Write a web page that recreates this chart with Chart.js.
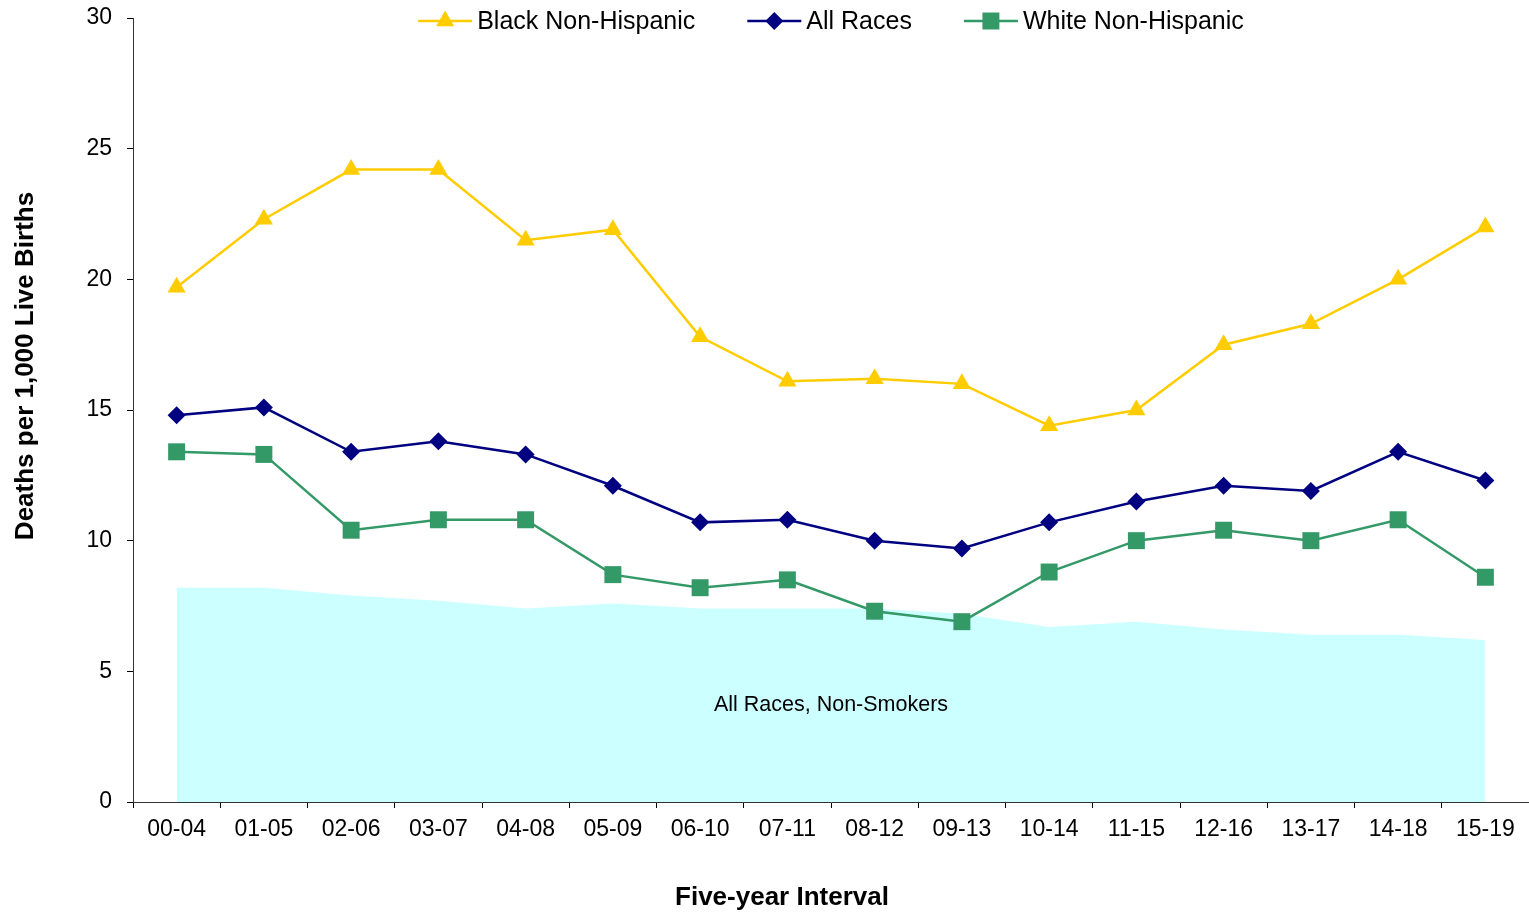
<!DOCTYPE html>
<html>
<head>
<meta charset="utf-8">
<script src="https://cdn.jsdelivr.net/npm/chart.js@4.4.1/dist/chart.umd.min.js"></script>
<style>
html,body{margin:0;padding:0;background:#fff;overflow:hidden;}
#wrap{width:1529px;height:915px;position:relative;}
</style>
</head>
<body>
<div id="wrap"><canvas id="c" width="1529" height="915"></canvas></div>
<script>
const intervals = ['00-04','01-05','02-06','03-07','04-08','05-09','06-10','07-11','08-12','09-13','10-14','11-15','12-16','13-17','14-18','15-19'];
const blackNonHispanic = [19.7,22.3,24.2,24.2,21.5,21.9,17.8,16.1,16.2,16.0,14.4,15.0,17.5,18.3,20.0,22.0];
const allRaces = [14.8,15.1,13.4,13.8,13.3,12.1,10.7,10.8,10.0,9.7,10.7,11.5,12.1,11.9,13.4,12.3];
const whiteNonHispanic = [13.4,13.3,10.4,10.8,10.8,8.7,8.2,8.5,7.3,6.9,8.8,10.0,10.4,10.0,10.8,8.6];
const allRacesNonSmokers = [8.2,8.2,7.9,7.7,7.4,7.6,7.4,7.4,7.4,7.2,6.7,6.9,6.6,6.4,6.4,6.2];
const yMin = 0, yMax = 30, yStep = 5;
const xTitle = 'Five-year Interval';
const yTitle = 'Deaths per 1,000 Live Births';
const areaLabel = 'All Races, Non-Smokers';
const areaLabelValue = 3.7;

const FONT = '"Liberation Sans", Arial, Helvetica, sans-serif';

const legendPlugin = {
  id: 'customLegend',
  afterDraw(chart) {
    const ctx = chart.ctx;
    const ca = chart.chartArea;
    const items = chart.data.datasets.filter(d => d.showInLegend);
    const iconW = 54, gapIT = 5, gapItems = 52;
    ctx.save();
    ctx.font = '25px ' + FONT;
    const widths = items.map(d => ctx.measureText(d.label).width);
    let total = 0;
    items.forEach((d, i) => { total += iconW + gapIT + widths[i]; if (i < items.length - 1) total += gapItems; });
    let x = (ca.left + ca.right) / 2 - total / 2;
    const y = 21;
    items.forEach((d, i) => {
      ctx.strokeStyle = d.borderColor;
      ctx.lineWidth = 2.5;
      ctx.beginPath();
      ctx.moveTo(x, y); ctx.lineTo(x + iconW, y);
      ctx.stroke();
      const cx = x + iconW / 2;
      ctx.fillStyle = d.pointBackgroundColor;
      ctx.beginPath();
      const r = d.pointRadius;
      if (d.pointStyle === 'triangle') {
        ctx.moveTo(cx, y - r);
        ctx.lineTo(cx + r * 0.866, y + r * 0.5);
        ctx.lineTo(cx - r * 0.866, y + r * 0.5);
      } else if (d.pointStyle === 'rectRot') {
        ctx.moveTo(cx - r, y); ctx.lineTo(cx, y - r); ctx.lineTo(cx + r, y); ctx.lineTo(cx, y + r);
      } else {
        const h = r * Math.SQRT1_2;
        ctx.rect(cx - h, y - h, 2 * h, 2 * h);
      }
      ctx.closePath();
      ctx.fill();
      ctx.fillStyle = '#000';
      ctx.textAlign = 'left';
      ctx.textBaseline = 'middle';
      ctx.fillText(d.label, x + iconW + gapIT, y + 1);
      x += iconW + gapIT + widths[i] + gapItems;
    });
    ctx.restore();
  }
};

const textPlugin = {
  id: 'texts',
  afterDatasetsDraw(chart) {
    const ctx = chart.ctx;
    const ca = chart.chartArea;
    const yPix = chart.scales.y.getPixelForValue(areaLabelValue);
    ctx.save();
    ctx.fillStyle = '#000';
    ctx.textAlign = 'center';
    ctx.textBaseline = 'middle';
    ctx.font = '21.5px ' + FONT;
    ctx.fillText(areaLabel, (ca.left + ca.right) / 2, yPix);
    ctx.font = 'bold 26px ' + FONT;
    ctx.fillText(xTitle, 782, 898);
    ctx.translate(26, 366);
    ctx.rotate(-Math.PI / 2);
    ctx.fillText(yTitle, 0, 0);
    ctx.restore();
  }
};

function lineDs(label, data, color, style, radius) {
  return {
    label, data,
    borderColor: color,
    backgroundColor: color,
    borderWidth: 2.5,
    pointStyle: style,
    pointRadius: radius,
    pointHoverRadius: radius,
    pointBackgroundColor: color,
    pointBorderColor: color,
    pointBorderWidth: 0,
    tension: 0,
    fill: false,
    showInLegend: true
  };
}

new Chart(document.getElementById('c'), {
  type: 'line',
  data: {
    labels: intervals,
    datasets: [
      lineDs('Black Non-Hispanic', blackNonHispanic, '#FFCC00', 'triangle', 10.5),
      lineDs('All Races', allRaces, '#000080', 'rectRot', 9),
      lineDs('White Non-Hispanic', whiteNonHispanic, '#339966', 'rect', 12),
      {
        label: areaLabel,
        data: allRacesNonSmokers,
        fill: 'origin',
        backgroundColor: '#CCFFFF',
        borderColor: 'rgba(0,0,0,0)',
        borderWidth: 0,
        pointRadius: 0,
        pointHoverRadius: 0,
        tension: 0,
        showInLegend: false
      }
    ]
  },
  options: {
    responsive: false,
    devicePixelRatio: 1,
    animation: false,
    layout: { autoPadding: false, padding: { top: 18, right: 0, left: 0, bottom: 0 } },
    plugins: {
      legend: { display: false },
      tooltip: { enabled: false }
    },
    scales: {
      x: {
        type: 'category',
        offset: true,
        grid: { display: true, drawOnChartArea: false, drawTicks: true, tickLength: 6, color: '#000', offset: true },
        border: { display: true, color: '#333', width: 1 },
        ticks: { color: '#000', font: { family: FONT, size: 23 }, padding: 8, maxRotation: 0, autoSkip: false },
        title: { display: false },
        afterFit(s) { s.height = 113; s.paddingLeft = 0; s.paddingRight = 0; s.paddingTop = 0; s.paddingBottom = 0; }
      },
      y: {
        min: yMin, max: yMax,
        grid: { display: true, drawOnChartArea: false, drawTicks: true, tickLength: 6, color: '#000' },
        border: { display: true, color: '#333', width: 1 },
        ticks: { stepSize: yStep, color: '#000', font: { family: FONT, size: 23 }, padding: 15 },
        title: { display: false },
        afterFit(s) { s.width = 133; s.paddingLeft = 0; s.paddingRight = 0; s.paddingTop = 0; s.paddingBottom = 0; }
      }
    }
  },
  plugins: [textPlugin, legendPlugin]
});
</script>
</body>
</html>
